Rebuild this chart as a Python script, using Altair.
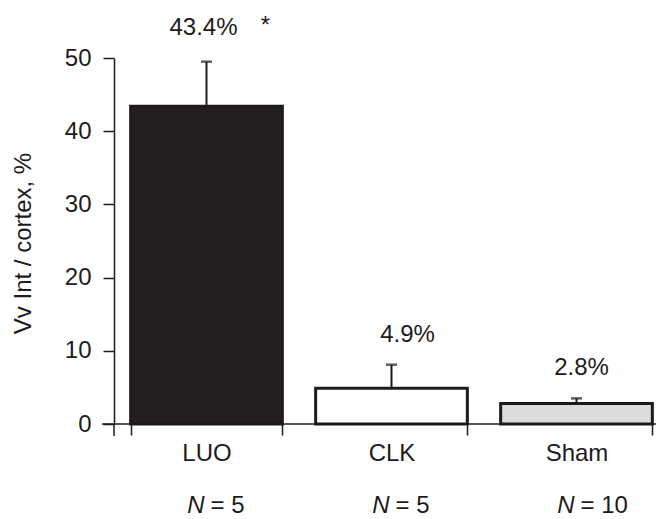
import altair as alt
import pandas as pd

groups = ["LUO", "CLK", "Sham"]
means = [43.4, 4.9, 2.8]
errors = [6.1, 3.2, 0.7]
labels = ["43.4%", "4.9%", "2.8%"]
n_values = ["= 5", "= 5", "= 10"]
fills = ["#231f20", "#ffffff", "#dcdcdc"]

df = pd.DataFrame({"group": groups, "mean": means, "err": errors,
                   "label": labels, "n": n_values, "fill": fills})
df["top"] = df["mean"] + df["err"]

FONT = "Liberation Sans"
INK = "#1e1b1c"
FS = 24

x = alt.X("group:N", sort=groups,
          scale=alt.Scale(range=[0, 555], paddingInner=0.18, paddingOuter=0.09),
          axis=alt.Axis(title=None, domain=False, tickBand="extent", tickSize=11,
                        tickColor=INK, tickWidth=1.5, labelAngle=0, labelFont=FONT,
                        labelFontSize=FS, labelColor=INK, labelPadding=6))
y = alt.Y("mean:Q", scale=alt.Scale(domain=[0, 50]),
          axis=alt.Axis(title="Vv Int / cortex, %", values=[0, 10, 20, 30, 40, 50],
                        grid=False, tickSize=11, tickColor=INK, tickWidth=1.5,
                        domainColor=INK, domainWidth=1.5, labelFont=FONT,
                        labelFontSize=FS, labelColor=INK, labelPadding=12,
                        titleFont=FONT, titleFontSize=FS, titleFontWeight="normal",
                        titleColor=INK, titleX=-91, titleY=185, titleAngle=-90,
                        titleAlign="center", titleBaseline="middle"))

base = alt.Chart(df)

bars = base.mark_bar(stroke=INK, strokeWidth=3).encode(
    x=x, y=y, fill=alt.Fill("fill:N", scale=None))

err = base.mark_rule(color=INK, strokeWidth=2).encode(
    x=x, y=alt.Y("mean:Q"), y2="top:Q")
cap = base.mark_tick(color=INK, thickness=2.5, size=11).encode(
    x=x, y=alt.Y("top:Q"))

label_layers = []
for g, dx, dy in [("LUO", -3, -34), ("CLK", 16, -30), ("Sham", 5, -30)]:
    label_layers.append(
        base.transform_filter(alt.datum.group == g).mark_text(
            dx=dx, dy=dy, font=FONT, fontSize=FS, color=INK, baseline="middle"
        ).encode(x=x, y=alt.Y("top:Q"), text="label:N"))

star = base.transform_filter(alt.datum.group == "LUO").mark_text(
    text="*", dx=59, dy=-36, font=FONT, fontSize=FS, color=INK, baseline="middle"
).encode(x=x, y=alt.Y("top:Q"))

n_italic = base.mark_text(text="N", align="right", dx=-2, fontStyle="italic",
                          font=FONT, fontSize=FS, color=INK, baseline="middle").encode(
    x=x, y=alt.value(448))
n_rest = base.mark_text(align="left", dx=4, font=FONT, fontSize=FS, color=INK,
                        baseline="middle").encode(
    x=x, y=alt.value(448), text="n:N")

one = alt.Chart(pd.DataFrame({"k": [0]}))
xline = one.mark_rule(color=INK, strokeWidth=1.5).encode(
    x=alt.value(-12), x2=alt.value(542), y=alt.value(366))
yext = one.mark_rule(color=INK, strokeWidth=1.5).encode(
    x=alt.value(0), y=alt.value(366), y2=alt.value(378))

chart = alt.layer(bars, xline, yext, err, cap, *label_layers, star, n_italic, n_rest).properties(
    width=542, height=366,
    padding={"left": 106, "top": 50, "right": 1, "bottom": 95},
    autosize=alt.AutoSizeParams(type="none"),
).configure_view(stroke=None)

chart.save("out.html", embed_options={"renderer": "svg", "actions": False})
